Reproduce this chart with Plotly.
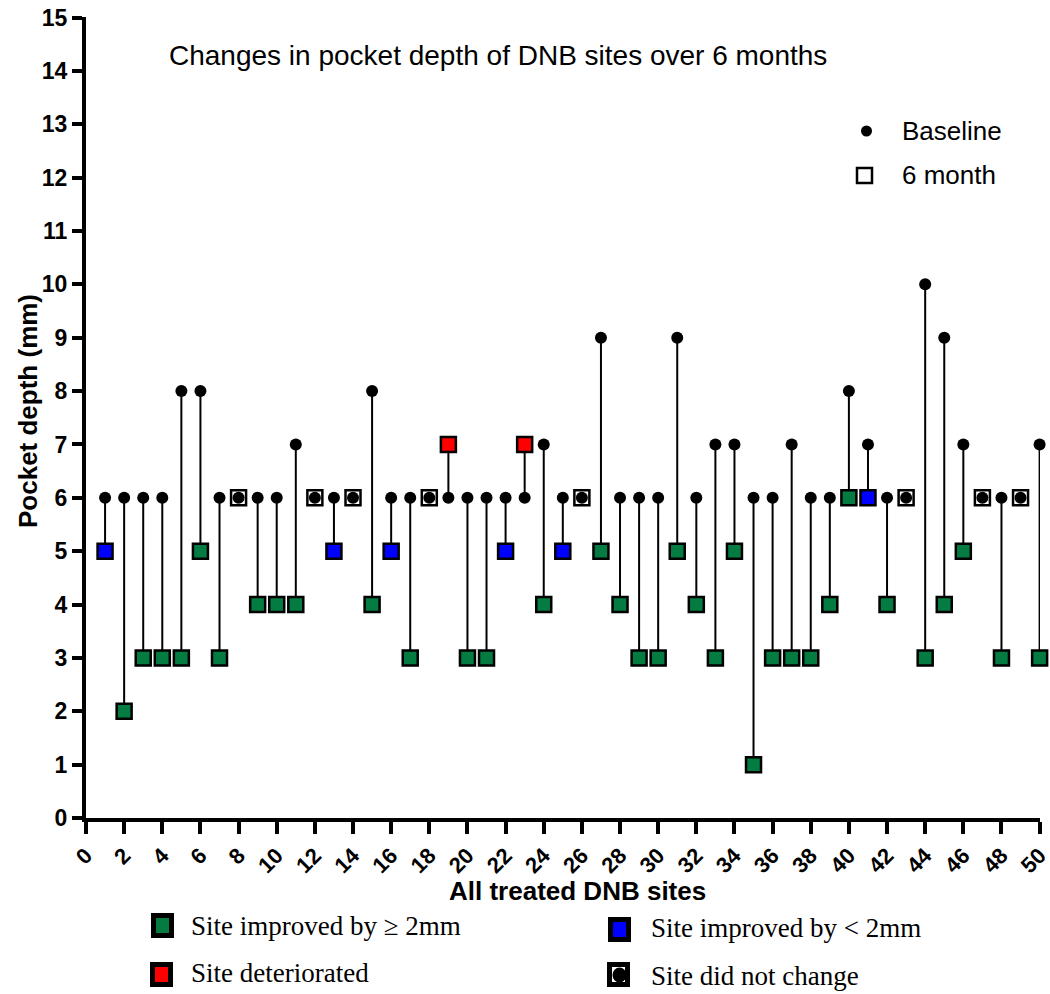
import plotly.graph_objects as go

# Pocket depth (mm) per treated DNB site
sites = list(range(1, 51))
baseline = [6, 6, 6, 6, 8, 8, 6, 6, 6, 6,
            7, 6, 6, 6, 8, 6, 6, 6, 6, 6,
            6, 6, 6, 7, 6, 6, 9, 6, 6, 6,
            9, 6, 7, 7, 6, 6, 7, 6, 6, 8,
            7, 6, 6, 10, 9, 7, 6, 6, 6, 7]
month6 = [5, 2, 3, 3, 3, 5, 3, 6, 4, 4,
          4, 6, 5, 6, 4, 5, 3, 6, 7, 3,
          3, 5, 7, 4, 5, 6, 5, 4, 3, 3,
          5, 4, 3, 5, 1, 3, 3, 3, 4, 6,
          6, 4, 6, 3, 4, 5, 6, 3, 6, 3]

x_ticks = list(range(0, 51, 2))
y_ticks = list(range(0, 16))

GREEN = "#047C41"
BLUE = "#0000FF"
RED = "#FF0000"
WHITE = "#FFFFFF"


def change_colour(b, m):
    d = b - m
    if d >= 2:
        return GREEN
    if d >= 1:
        return BLUE
    if d < 0:
        return RED
    return WHITE


square_colours = [change_colour(b, m) for b, m in zip(baseline, month6)]

# connector segments
seg_x, seg_y = [], []
for s, b, m in zip(sites, baseline, month6):
    seg_x += [s, s, None]
    seg_y += [b, m, None]

fig = go.Figure()
fig.add_trace(go.Scatter(x=seg_x, y=seg_y, mode="lines",
                         line=dict(color="black", width=2),
                         hoverinfo="skip", showlegend=False, cliponaxis=False))
fig.add_trace(go.Scatter(x=sites, y=month6, mode="markers", name="6 month",
                         marker=dict(symbol="square", size=15, color=square_colours,
                                     line=dict(color="black", width=2.5)),
                         showlegend=False, cliponaxis=False))
fig.add_trace(go.Scatter(x=sites, y=baseline, mode="markers", name="Baseline",
                         marker=dict(symbol="circle", size=12, color="black"),
                         showlegend=False, cliponaxis=False))

W, H = 1050, 994
L, R, T, B = 86, 10, 17, 176
PW, PH = W - L - R, H - T - B


def px(x):
    return (x - L) / PW


def py(y):
    return (H - B - y) / PH


shapes = []
annotations = []

sans = "Liberation Sans, Arial, sans-serif"
serif = "Liberation Serif, Times New Roman, serif"

# chart title
annotations.append(dict(x=px(167), y=py(55), xref="paper", yref="paper",
                        xanchor="left", yanchor="middle", showarrow=False,
                        text="Changes in pocket depth of DNB sites over 6 months",
                        font=dict(family=sans, size=28, color="black")))

# axis titles
annotations.append(dict(x=px(28), y=py(411), xref="paper", yref="paper",
                        xanchor="center", yanchor="middle", showarrow=False,
                        textangle=-90, text="<b>Pocket depth (mm)</b>",
                        font=dict(family=sans, size=26, color="black")))
annotations.append(dict(x=px(577), y=py(891), xref="paper", yref="paper",
                        xanchor="center", yanchor="middle", showarrow=False,
                        text="<b>All treated DNB sites</b>",
                        font=dict(family=sans, size=26, color="black")))

# key: baseline / 6 month
shapes.append(dict(type="circle", xref="paper", yref="paper",
                   x0=px(861), x1=px(872), y0=py(136.5), y1=py(125.5),
                   fillcolor="black", line=dict(color="black", width=0)))
annotations.append(dict(x=px(900), y=py(131), xref="paper", yref="paper",
                        xanchor="left", yanchor="middle", showarrow=False,
                        text="Baseline", font=dict(family=sans, size=26, color="black")))
shapes.append(dict(type="rect", xref="paper", yref="paper",
                   x0=px(857), x1=px(872), y0=py(183), y1=py(168),
                   fillcolor="white", line=dict(color="black", width=2.5)))
annotations.append(dict(x=px(900), y=py(175), xref="paper", yref="paper",
                        xanchor="left", yanchor="middle", showarrow=False,
                        text="6 month", font=dict(family=sans, size=26, color="black")))

# key: change categories below the axis
key_items = [
    (151, 913, GREEN, "Site improved by \u2265 2mm", 189, 926),
    (608, 917, BLUE, "Site improved by < 2mm", 649, 928),
    (150, 962, RED, "Site deteriorated", 189, 973),
    (607, 962, WHITE, "Site did not change", 649, 976),
]
for x0, y0, col, label, tx, ty in key_items:
    w, h = 23, 25
    shapes.append(dict(type="rect", xref="paper", yref="paper",
                       x0=px(x0), x1=px(x0 + w), y0=py(y0 + h), y1=py(y0),
                       fillcolor="black", line=dict(width=0)))
    shapes.append(dict(type="rect", xref="paper", yref="paper",
                       x0=px(x0 + 5), x1=px(x0 + w - 5), y0=py(y0 + h - 5), y1=py(y0 + 5),
                       fillcolor=col, line=dict(width=0)))
    if col == WHITE:
        cx, cy = x0 + w / 2 + 1, y0 + h / 2 + 0.5
        shapes.append(dict(type="circle", xref="paper", yref="paper",
                           x0=px(cx - 7), x1=px(cx + 7), y0=py(cy + 7.5), y1=py(cy - 7.5),
                           fillcolor="black", line=dict(width=0)))
    annotations.append(dict(x=px(tx), y=py(ty), xref="paper", yref="paper",
                            xanchor="left", yanchor="middle", showarrow=False,
                            text=label, font=dict(family=serif, size=27, color="black")))

axis_common = dict(showgrid=False, zeroline=False, showline=True, linecolor="black",
                   linewidth=4, ticks="outside", tickcolor="black", tickwidth=3.5,
                   automargin=False, mirror=False, ticklabeloverflow="allow")

fig.update_layout(
    width=W, height=H,
    margin=dict(l=L, r=R, t=T, b=B, pad=0),
    plot_bgcolor="white", paper_bgcolor="white",
    xaxis=dict(range=[0, 50.02], tickvals=x_ticks, ticktext=[str(v) for v in x_ticks],
               tickangle=-45, ticklen=12,
               tickfont=dict(family=sans, size=22, color="black", weight="bold"),
               **axis_common),
    yaxis=dict(range=[0, 15.01], tickvals=y_ticks, ticktext=[str(v) for v in y_ticks],
               ticklen=10,
               tickfont=dict(family=sans, size=23, color="black", weight="bold"),
               **axis_common),
    shapes=shapes,
    annotations=annotations,
    showlegend=False,
)

fig.write_html("out.html")
